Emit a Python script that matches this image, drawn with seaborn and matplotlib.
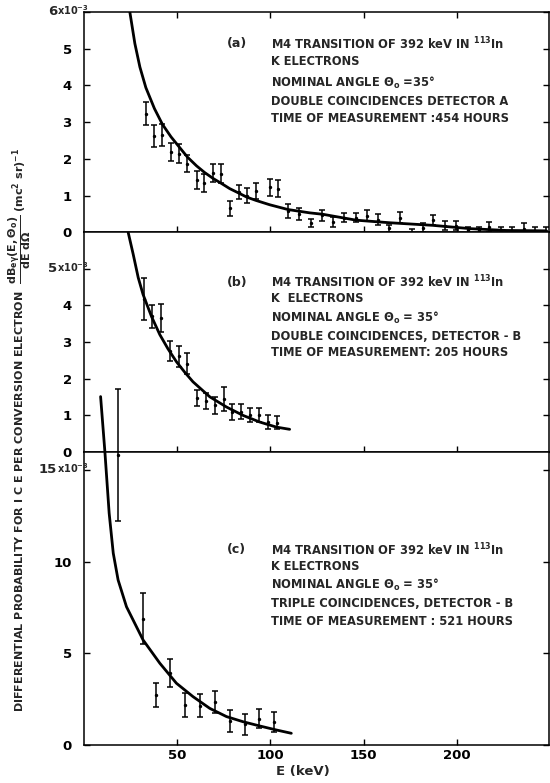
import matplotlib
matplotlib.use("Agg")
import matplotlib.pyplot as plt
import matplotlib.transforms as mtransforms
import numpy as np
import pandas as pd
import seaborn as sns

# ---------------- data ----------------
# panel (a): double coincidences, detector A
a_E = [33.1, 37.7, 42.0, 46.7, 51.0, 55.4, 60.3, 64.5, 69.4, 73.7, 78.1, 83.0, 87.2, 92.0,
       99.6, 104.0, 109.4, 115.5, 121.9, 127.6, 133.5, 139.4, 145.7, 151.7, 157.6, 163.5,
       169.8, 176.0, 181.8, 187.5, 193.8, 199.7, 205.9, 211.8, 217.5, 223.8, 229.7, 235.9,
       242.0, 248.0]
a_val = [3.23, 2.62, 2.64, 2.19, 2.14, 1.87, 1.42, 1.34, 1.62, 1.60, 0.65, 1.10, 1.00, 1.12,
         1.22, 1.19, 0.58, 0.49, 0.26, 0.46, 0.28, 0.40, 0.40, 0.45, 0.34, 0.11,
         0.40, -0.02, 0.13, 0.33, 0.18, 0.18, 0.05, 0.05, 0.15, 0.03, 0.03, 0.10,
         0.03, 0.03]
a_err = [0.32, 0.29, 0.30, 0.25, 0.26, 0.24, 0.24, 0.25, 0.25, 0.25, 0.20, 0.20, 0.20, 0.22,
         0.22, 0.24, 0.18, 0.16, 0.11, 0.16, 0.14, 0.12, 0.12, 0.15, 0.15, 0.10,
         0.15, 0.12, 0.12, 0.14, 0.13, 0.13, 0.10, 0.10, 0.14, 0.11, 0.11, 0.14,
         0.11, 0.11]
a_curve_E = [24.5, 27.2, 29.9, 33.1, 37.7, 42.0, 46.6, 50.9, 55.4, 60.3, 64.6, 69.4, 73.7,
             78.1, 82.9, 87.2, 92.1, 99.6, 109.4, 121.0, 128.2, 146.0, 164.0, 187.0, 207.0,
             226.5, 248.0]
a_curve_val = [6.0, 5.14, 4.5, 3.94, 3.37, 2.94, 2.6, 2.33, 2.05, 1.81, 1.63, 1.46, 1.33,
               1.19, 1.07, 0.96, 0.87, 0.75, 0.62, 0.53, 0.49, 0.33, 0.26, 0.19, 0.10,
               0.05, 0.04]

# panel (b): double coincidences, detector B
b_E = [32.2, 36.5, 41.1, 46.3, 51.0, 55.4, 60.8, 65.3, 70.1, 74.9, 79.6, 84.4, 89.2, 93.9,
       98.7, 103.5]
b_val = [4.18, 3.70, 3.65, 2.75, 2.61, 2.41, 1.47, 1.38, 1.27, 1.45, 1.08, 1.09, 1.00, 1.00,
         0.82, 0.79]
b_err = [0.57, 0.32, 0.38, 0.28, 0.29, 0.28, 0.21, 0.21, 0.23, 0.33, 0.21, 0.21, 0.19, 0.20,
         0.19, 0.18]
b_curve_E = [23.6, 26.3, 29.0, 31.6, 36.1, 40.6, 45.0, 49.5, 54.0, 58.4, 67.4, 76.4, 85.3,
             94.2, 103.2, 110.3]
b_curve_val = [6.0, 5.4, 4.76, 4.3, 3.7, 3.2, 2.81, 2.46, 2.17, 1.91, 1.5, 1.22, 0.99,
               0.81, 0.67, 0.61]

# panel (c): triple coincidences, detector B
c_E = [17.9, 31.3, 38.3, 46.0, 54.0, 62.0, 70.1, 78.1, 86.2, 93.9, 101.9]
c_val = [15.8, 6.88, 2.73, 3.94, 2.18, 2.15, 2.35, 1.32, 1.12, 1.43, 1.26]
c_err = [3.6, 1.39, 0.64, 0.75, 0.64, 0.61, 0.62, 0.59, 0.57, 0.52, 0.54]
c_curve_E = [8.8, 11.1, 13.4, 15.6, 18.2, 22.7, 31.6, 40.6, 49.5, 58.4, 67.4, 76.4, 85.3,
             94.2, 103.2, 111.2]
c_curve_val = [19.0, 16.0, 12.64, 10.46, 9.0, 7.54, 5.73, 4.46, 3.37, 2.64, 2.0, 1.55, 1.27,
               1.04, 0.82, 0.64]

x_ticks = [50, 100, 150, 200]
a_yticks = [0, 1, 2, 3, 4, 5]
b_yticks = [0, 1, 2, 3, 4]
c_yticks = [0, 5, 10]

panel_texts = {
    "a": ["M4 TRANSITION OF 392 keV IN $^{113}$In", "K ELECTRONS",
          "NOMINAL ANGLE $\\Theta_o$ =35°", "DOUBLE COINCIDENCES DETECTOR A",
          "TIME OF MEASUREMENT :454 HOURS"],
    "b": ["M4 TRANSITION OF 392 keV IN $^{113}$In", "K  ELECTRONS",
          "NOMINAL ANGLE $\\Theta_o$ = 35°", "DOUBLE COINCIDENCES, DETECTOR - B",
          "TIME OF MEASUREMENT: 205 HOURS"],
    "c": ["M4 TRANSITION OF 392 keV IN $^{113}$In", "K ELECTRONS",
          "NOMINAL ANGLE $\\Theta_o$ = 35°", "TRIPLE COINCIDENCES, DETECTOR - B",
          "TIME OF MEASUREMENT : 521 HOURS"],
}

# ---------------- style ----------------
sns.set_theme(style="ticks")
plt.rcParams['font.family'] = ['DejaVu Sans']
plt.rcParams['mathtext.fontset'] = 'custom'
plt.rcParams['mathtext.rm'] = 'DejaVu Sans:bold'
plt.rcParams['mathtext.it'] = 'DejaVu Sans:bold'
plt.rcParams['mathtext.bf'] = 'DejaVu Sans:bold'
plt.rcParams['axes.linewidth'] = 1.1

fig = plt.figure(figsize=(5.5, 7.83), dpi=100)
gs = fig.add_gridspec(3, 1, height_ratios=[220, 219, 293], hspace=0,
                      left=0.1531, right=0.998, top=0.9847, bottom=0.0485)
axes = [fig.add_subplot(gs[i]) for i in range(3)]

panels = [
    ("a", axes[0], a_E, a_val, a_err, a_curve_E, a_curve_val, (0, 6), a_yticks, 6, "6"),
    ("b", axes[1], b_E, b_val, b_err, b_curve_E, b_curve_val, (0, 6), b_yticks, 5, "5"),
    ("c", axes[2], c_E, c_val, c_err, c_curve_E, c_curve_val, (0, 16), c_yticks, 15, "15"),
]

text_y = {"a": [0.855, 0.773, 0.677, 0.595, 0.518],
          "b": [0.773, 0.697, 0.609, 0.527, 0.451],
          "c": [0.666, 0.608, 0.546, 0.483, 0.421]}

for key, ax, E, v, err, cE, cv, ylim, yt, expo_tick, expo_num in panels:
    curve = pd.DataFrame({"E": cE, "val": cv})
    pts = pd.DataFrame({"E": E, "val": v, "err": err})
    sns.lineplot(data=curve, x="E", y="val", ax=ax, color="black", lw=2.0,
                 sort=False, estimator=None)
    ax.errorbar(pts["E"], pts["val"], yerr=pts["err"], fmt="none", ecolor="black",
                elinewidth=1.1, capsize=2.2, capthick=1.1)
    sns.scatterplot(data=pts, x="E", y="val", ax=ax, color="black", s=6, marker="o",
                    linewidth=0)
    if key == "c":
        for ln in ax.lines:
            ln.set_clip_on(False)
        for coll in ax.collections:
            coll.set_clip_on(False)
    ax.set_xlim(0, 249.5)
    ax.set_ylim(*ylim)
    ax.set_yticks(yt + [expo_tick])
    ax.set_yticklabels([str(t) for t in yt] + [""])
    ax.set_xticks(x_ticks)
    ax.set_xlabel("")
    ax.set_ylabel("")
    ax.tick_params(axis="both", direction="in", length=4.5, width=1.0, colors="black",
                   labelsize=9.5, right=True, top=(key == "a"))
    ax.tick_params(axis="y", pad=9)
    ax.tick_params(axis="x", pad=3)
    for lab in ax.get_yticklabels() + ax.get_xticklabels():
        lab.set_fontweight("bold")
    if key != "c":
        ax.tick_params(axis="x", labelbottom=False)
    # exponent tick label: digits in tick size, "x10^-3" smaller, ending at the spine
    trans = mtransforms.blended_transform_factory(ax.transAxes, ax.transData)
    ax.text(-0.058, expo_tick, expo_num, transform=trans, ha="right",
            va="center", fontsize=9.5, fontweight="bold")
    ax.text(-0.058, expo_tick + (0.04 if key != "c" else 0.1), "x10$^{-3}$",
            transform=trans, ha="left", va="center", fontsize=7, fontweight="bold")
    # annotation block
    ax.text(0.307, text_y[key][0], "(" + key + ")", transform=ax.transAxes, fontsize=9,
            ha="left", va="center", fontweight="bold")
    for line, yy in zip(panel_texts[key], text_y[key]):
        ax.text(0.402, yy, line, transform=ax.transAxes, fontsize=8.3, ha="left",
                va="center", fontweight="bold")
    for sp in ax.spines.values():
        sp.set_color("black")
        sp.set_visible(True)

fig.text(0.551, 1 - 772 / 783, "E (keV)", ha="center", va="center", fontsize=9.5,
         fontweight="bold")
fig.text(0.036, 1 - 430 / 783,
         "DIFFERENTIAL PROBABILITY FOR I C E PER CONVERSION ELECTRON  "
         "$\\dfrac{dB_{e\\gamma}(E,\\Theta_o)}{dE\\ d\\Omega}$ (mc$^2$ sr)$^{-1}$",
         rotation=90, ha="center", va="center", fontsize=8.0, fontweight="bold")

fig.savefig("out.png", dpi=100, facecolor="white")
